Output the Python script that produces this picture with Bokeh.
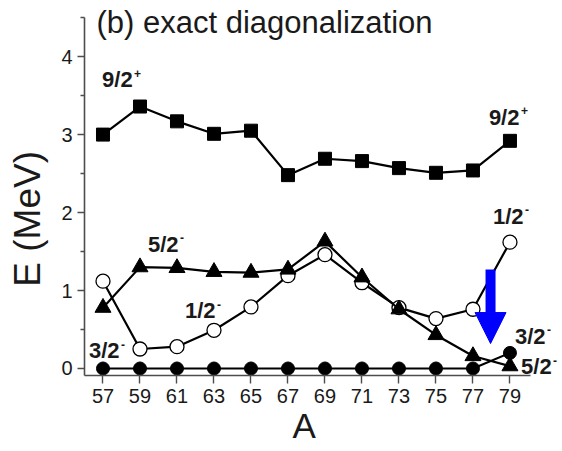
import math

from bokeh.embed import file_html
from bokeh.models import Arrow, FixedTicker, Label, NormalHead, Range1d
from bokeh.plotting import figure
from bokeh.resources import INLINE

# Mass number A of the isotopes
mass_number = [57, 59, 61, 63, 65, 67, 69, 71, 73, 75, 77, 79]

# Level energies (MeV) from exact diagonalization
e_9_2_plus = [3.00, 3.36, 3.17, 3.01, 3.05, 2.48, 2.69, 2.66, 2.57, 2.51, 2.54, 2.92]
e_5_2_minus = [0.78, 1.30, 1.29, 1.24, 1.23, 1.27, 1.63, 1.17, 0.76, 0.43, 0.16, 0.03]
e_1_2_minus = [1.12, 0.25, 0.28, 0.49, 0.79, 1.19, 1.46, 1.10, 0.78, 0.64, 0.76, 1.62]
e_3_2_minus = [0.00, 0.00, 0.00, 0.00, 0.00, 0.00, 0.00, 0.00, 0.00, 0.00, 0.00, 0.20]

x_ticks = mass_number
y_ticks = [0, 1, 2, 3, 4]
y_minor = [0.5, 1.5, 2.5, 3.5, 4.5]

FONT = "Liberation Sans"
INK = "#1a1a1a"
NBSP = "\u00a0"

p = figure(
    width=562, height=451,
    output_backend="svg", toolbar_location=None,
    x_range=Range1d(56.0, 81.84), y_range=Range1d(-0.09, 4.72),
    min_border_left=84, min_border_right=0,
    min_border_top=0, min_border_bottom=76,
)
p.outline_line_color = None
p.xgrid.visible = False
p.ygrid.visible = False
p.background_fill_color = "white"
p.border_fill_color = "white"

# axes
for ax in (p.xaxis[0], p.yaxis[0]):
    ax.axis_line_color = "#4d4d4d"
    ax.axis_line_width = 1.6
    ax.major_tick_line_color = "#4d4d4d"
    ax.major_tick_line_width = 1.4
    ax.minor_tick_line_color = "#4d4d4d"
    ax.minor_tick_line_width = 1.4
    ax.major_tick_in = 0
    ax.minor_tick_in = 0
    ax.major_label_text_font = FONT
    ax.major_label_text_font_size = "20px"
    ax.major_label_text_color = INK
    ax.axis_label_text_font = FONT
    ax.axis_label_text_font_style = "normal"
    ax.axis_label_text_color = INK

p.xaxis.ticker = FixedTicker(ticks=x_ticks)
p.xaxis.bounds = (56.0, 80.1)
p.xaxis.major_tick_out = 8
p.xaxis.minor_tick_out = 0
p.xaxis.major_label_standoff = 5
p.xaxis.axis_label = "A" + NBSP * 4
p.xaxis.axis_label_text_font_size = "35px"
p.xaxis.axis_label_standoff = 0

p.yaxis.ticker = FixedTicker(ticks=y_ticks, minor_ticks=y_minor)
p.yaxis.bounds = (-0.09, 4.5)
p.yaxis.major_tick_out = 7
p.yaxis.minor_tick_out = 4
p.yaxis.major_label_standoff = 5
p.yaxis.axis_label = "E (MeV)" + NBSP * 6
p.yaxis.axis_label_text_font_size = "37px"
p.yaxis.axis_label_standoff = 10

LW = 2.2

# 9/2+ : filled squares
p.line(mass_number, e_9_2_plus, line_color="black", line_width=LW)
p.scatter(mass_number, e_9_2_plus, marker="square", size=13,
          fill_color="black", line_color="black")

# 3/2- : filled circles
p.line(mass_number, e_3_2_minus, line_color="black", line_width=LW)
p.scatter(mass_number, e_3_2_minus, marker="circle", size=13,
          fill_color="black", line_color="black")

# 1/2- : open circles
p.line(mass_number, e_1_2_minus, line_color="black", line_width=LW)
p.scatter(mass_number, e_1_2_minus, marker="circle", size=14,
          fill_color="white", line_color="black", line_width=1.3)

# 5/2- : filled triangles
p.line(mass_number, e_5_2_minus, line_color="black", line_width=LW)
p.scatter(mass_number, e_5_2_minus, marker="triangle", size=16,
          fill_color="black", line_color="black")

# blue arrow pointing at the 77/79 level crossing
p.add_layout(Arrow(
    x_start=77.95, y_start=1.27, x_end=77.95, y_end=0.32,
    line_color="#0000ff", line_width=10,
    end=NormalHead(size=31, fill_color="#0000ff", line_color="#0000ff", line_width=1),
))


def text_at(x, y, text, size, bold=False, dx=0, dy=0):
    """Text whose alphabetic baseline sits at (x, y)."""
    p.add_layout(Label(x=x, y=y, x_offset=dx, y_offset=dy + 0.36 * size, text=text,
                       text_font=FONT, text_font_size=f"{size}px",
                       text_font_style="bold" if bold else "normal", text_color=INK,
                       text_align="left", text_baseline="alphabetic"))


def spin_label(x, y, main, sup):
    """Bold spin-parity label with a raised parity sign."""
    text_at(x, y, main, 22, bold=True)
    text_at(x, y, sup, 12, bold=True, dx=32, dy=10)


spin_label(56.95, 3.60, "9/2", "+")
spin_label(77.86, 3.12, "9/2", "+")
spin_label(59.43, 1.49, "5/2", "-")
spin_label(61.43, 0.64, "1/2", "-")
spin_label(56.24, 0.13, "3/2", "-")
spin_label(78.08, 1.85, "1/2", "-")
spin_label(79.27, 0.31, "3/2", "-")
spin_label(79.60, -0.075, "5/2", "-")

# panel title
text_at(56.65, 4.295, "(b) exact diagonalization", 31)

open("out.html", "w").write(file_html(p, INLINE))
